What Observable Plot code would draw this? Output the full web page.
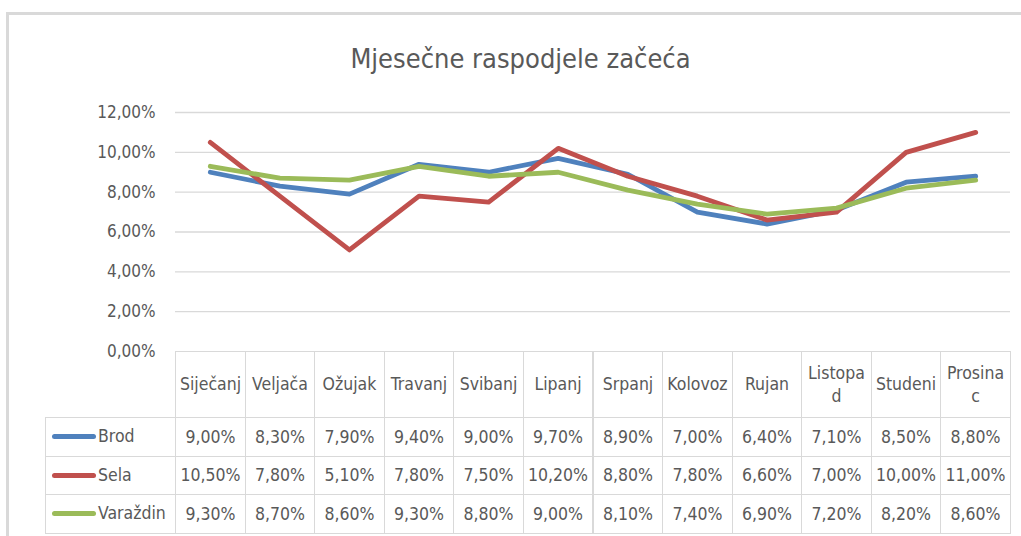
<!DOCTYPE html>
<html><head><meta charset="utf-8">
<script src="https://cdn.jsdelivr.net/npm/d3@7"></script>
<script src="https://cdn.jsdelivr.net/npm/@observablehq/plot@0.6"></script>
<style>
body{margin:0;background:#fff}
#wrap{position:relative;width:1021px;height:536px;overflow:hidden;background:#fff;font-family:"DejaVu Sans Condensed","DejaVu Sans",sans-serif;color:#595959}
#frame{position:absolute;left:6px;top:12px;width:1100px;height:600px;border-left:3px solid #d9d9d9;border-top:3px solid #d9d9d9}
#title{position:absolute;left:10px;top:42px;width:1021px;text-align:center;font-size:27px;line-height:34px;color:#595959}
.cell{position:absolute;box-sizing:border-box;border:1px solid #d9d9d9;display:flex;align-items:center;justify-content:center;text-align:center;font-size:17.5px;white-space:pre-line;line-height:23px;color:#595959}
.swatch{position:absolute;height:5px;border-radius:3px}
.lab{position:absolute;font-size:17.5px;color:#595959}
#plot{position:absolute;left:0;top:0}
</style></head>
<body><div id="wrap"><div id="frame"></div><div id="title">Mjesečne raspodjele začeća</div><div id="plot"></div></div>
<script>
const months = ["Siječanj","Veljača","Ožujak","Travanj","Svibanj","Lipanj","Srpanj","Kolovoz","Rujan","Listopad","Studeni","Prosinac"];
const headerLabels = ["Siječanj","Veljača","Ožujak","Travanj","Svibanj","Lipanj","Srpanj","Kolovoz","Rujan","Listopa\nd","Studeni","Prosina\nc"];
const seriesNames = ["Brod","Sela","Varaždin"];
const seriesColors = ["#4F81BD","#C0504D","#9BBB59"];
const brod = [9.0,8.3,7.9,9.4,9.0,9.7,8.9,7.0,6.4,7.1,8.5,8.8];
const sela = [10.5,7.8,5.1,7.8,7.5,10.2,8.8,7.8,6.6,7.0,10.0,11.0];
const varazdin = [9.3,8.7,8.6,9.3,8.8,9.0,8.1,7.4,6.9,7.2,8.2,8.6];
const yTicks = [0,2,4,6,8,10,12];

const seriesValues = [brod, sela, varazdin];
const data = seriesNames.flatMap((s, si) => months.map((m, i) => ({series: s, month: m, value: seriesValues[si][i]})));
const fmt = v => v.toFixed(2).replace(".", ",") + "%";

const plot = Plot.plot({
  width: 1021, height: 536,
  marginLeft: 175, marginRight: 11, marginTop: 112, marginBottom: 185,
  x: {type: "point", domain: months, padding: 0.5, round: false, axis: null},
  y: {domain: [0, 12], axis: null},
  color: {domain: seriesNames, range: seriesColors},
  style: {background: "transparent", fontFamily: "'DejaVu Sans Condensed','DejaVu Sans',sans-serif", fontSize: "17px", color: "#595959"},
  marks: [
    Plot.ruleY(yTicks.filter(d => d > 0), {stroke: "#d9d9d9", strokeWidth: 1.3, strokeOpacity: 1}),
    Plot.axisY(yTicks, {tickSize: 0, tickPadding: 20, tickFormat: fmt, fill: "#595959", fontSize: 17, label: null}),
    Plot.line(data, {x: "month", y: "value", z: "series", stroke: "series", strokeWidth: 4.8, strokeLinejoin: "round", strokeLinecap: "round"})
  ]
});
document.getElementById("plot").appendChild(plot);

// data table aligned to the plot's scales
const xs = plot.scale("x"), ys = plot.scale("y");
const step = xs.apply(months[1]) - xs.apply(months[0]);
const top0 = Math.round(ys.apply(0));
const headerH = 66, rowH = 38.5, legendLeft = 45;
const wrap = document.getElementById("wrap");
function cell(x, y, x2, y2, text) {
  const d = document.createElement("div");
  d.className = "cell";
  const l = Math.round(x), t = Math.round(y), r = Math.round(x2), b = Math.round(y2);
  Object.assign(d.style, {left: l + "px", top: t + "px", width: (r - l + 1) + "px", height: (b - t + 1) + "px"});
  if (text != null) d.textContent = text;
  wrap.appendChild(d);
  return d;
}
months.forEach((m, i) => {
  const xa = xs.apply(m) - step / 2, xb = xs.apply(m) + step / 2;
  cell(xa, top0, xb, top0 + headerH, headerLabels[i]);
  seriesNames.forEach((s, si) => {
    const ya = top0 + headerH + si * rowH;
    cell(xa, ya, xb, ya + rowH, fmt(seriesValues[si][i]));
  });
});
const x0 = xs.apply(months[0]) - step / 2;
seriesNames.forEach((s, si) => {
  const y = top0 + headerH + si * rowH;
  const c = cell(legendLeft, y, x0, y + rowH, null);
  const sw = document.createElement("div");
  sw.className = "swatch";
  Object.assign(sw.style, {left: (51 - legendLeft) + "px", top: "16px", width: "44px", background: seriesColors[si]});
  c.appendChild(sw);
  const lb = document.createElement("div");
  lb.className = "lab";
  lb.textContent = s;
  Object.assign(lb.style, {left: (97 - legendLeft) + "px", top: "7px", lineHeight: "23px"});
  c.appendChild(lb);
});
</script></body></html>
